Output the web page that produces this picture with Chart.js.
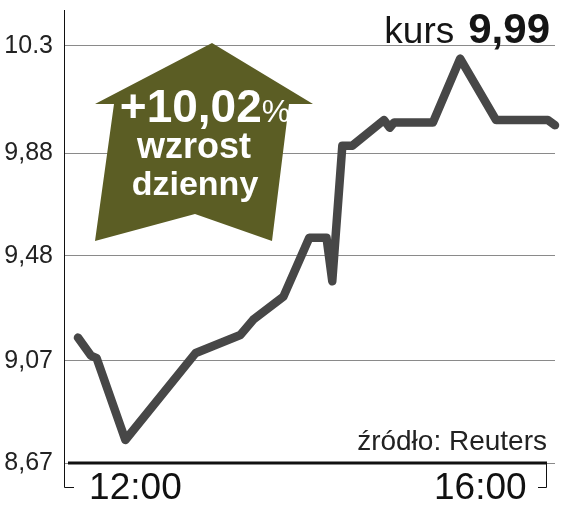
<!DOCTYPE html>
<html>
<head>
<meta charset="utf-8">
<script src="https://cdn.jsdelivr.net/npm/chart.js@4/dist/chart.umd.min.js"></script>
<style>
  body { margin: 0; background: #fff; }
  #kurs { display: block; }
</style>
</head>
<body>
<canvas id="kurs" width="561" height="513"></canvas>
<script>
// notowania w ciagu dnia (godzina, kurs)
const godziny = ['11:20', '11:29', '11:33', '11:53', '12:42', '13:13', '13:22', '13:43', '14:01', '14:13', '14:17',
    '14:24', '14:31', '14:53', '14:57', '15:00', '15:27', '15:46', '16:11', '16:47', '16:52'];
const kursy = [9.16, 9.09, 9.08, 8.76, 9.10, 9.17, 9.23, 9.32, 9.55, 9.55, 9.38,
    9.91, 9.91, 10.01, 9.98, 10.00, 10.00, 10.25, 10.01, 10.01, 9.99];

const yTicks = [8.67, 9.07, 9.48, 9.88, 10.3];
const yLabels = ['8,67', '9,07', '9,48', '9,88', '10.3'];
const xTicks = ['12:00', '16:00'];
const zakres = ['11:11', '16:52'];
const yMax = 10.44;

const tytul = 'kurs';
const ostatni = '9,99';
const zmiana = '+10,02';
const opis = ['wzrost', 'dzienny'];
const zrodlo = 'źródło: Reuters';

const toMin = (s) => {
    const [h, m] = s.split(':').map(Number);
    return h * 60 + m;
};
const toHour = (v) => {
    const h = Math.floor(v / 60);
    const m = v % 60;
    return h + ':' + (m < 10 ? '0' + m : m);
};

const FONT = '"Liberation Sans", Arial, sans-serif';

// strzalka w gore
const strzalka = [[212, 43], [313, 104], [289, 104], [272, 241], [195, 214], [95, 241], [114, 104], [95, 104]];

const dekoracje = {
    id: 'dekoracje',
    beforeDatasetsDraw(chart) {
        const c = chart.ctx;
        c.save();
        c.fillStyle = '#5b5d24';
        c.beginPath();
        strzalka.forEach(([x, y], i) => i ? c.lineTo(x, y) : c.moveTo(x, y));
        c.closePath();
        c.fill();
        c.restore();
    },
    afterDraw(chart) {
        const c = chart.ctx;
        const a = chart.chartArea;
        c.save();
        c.strokeStyle = '#111';
        c.lineWidth = 1;
        c.beginPath();
        c.moveTo(a.left - 0.5, a.top);
        c.lineTo(a.left - 0.5, a.bottom + 24.5);
        c.lineTo(a.left + 9, a.bottom + 24.5);
        c.stroke();

        c.beginPath();
        c.moveTo(a.right - 8.5, a.bottom);
        c.lineTo(a.right - 8.5, a.bottom + 24.5);
        c.lineTo(a.right - 17, a.bottom + 24.5);
        c.stroke();

        c.lineWidth = 3;
        c.beginPath();
        c.moveTo(a.left + 3, a.bottom);
        c.lineTo(a.right - 8, a.bottom);
        c.stroke();

        // kurs 9,99
        c.fillStyle = '#151515';
        c.textAlign = 'right';
        c.textBaseline = 'alphabetic';
        c.font = 'bold 42px ' + FONT;
        c.fillText(ostatni, 550, 43);
        const w = c.measureText(ostatni).width;
        c.font = '37px ' + FONT;
        c.fillText(tytul, 550 - w - 14, 43);

        c.font = '28px ' + FONT;
        c.fillStyle = '#222';
        c.fillText(zrodlo, 547, 450);

        // napisy na strzalce
        c.fillStyle = '#fff';
        c.textAlign = 'left';
        c.font = 'bold 46px ' + FONT;
        const w1 = c.measureText(zmiana).width;
        c.font = '32px ' + FONT;
        const w2 = c.measureText('%').width;
        const x0 = 205 - (w1 + w2) / 2;
        c.font = 'bold 46px ' + FONT;
        c.fillText(zmiana, x0, 122);
        c.font = '32px ' + FONT;
        c.fillText('%', x0 + w1, 122);

        c.textAlign = 'center';
        c.font = 'bold 36px ' + FONT;
        c.fillText(opis[0], 194, 158);
        c.font = 'bold 34px ' + FONT;
        c.fillText(opis[1], 195, 195);
        c.restore();
    }
};

new Chart(document.querySelector('#kurs'), {
    type: 'line',
    data: {
        datasets: [{
            data: godziny.map((g, i) => ({ x: toMin(g), y: kursy[i] })),
            borderColor: '#474747',
            borderWidth: 8.5,
            borderJoinStyle: 'round',
            borderCapStyle: 'round',
            pointRadius: 0,
            tension: 0,
            clip: false
        }]
    },
    options: {
        responsive: false,
        animation: false,
        devicePixelRatio: 1,
        layout: { padding: { top: 10, right: 6, left: 0, bottom: 0 } },
        plugins: { legend: { display: false }, tooltip: { enabled: false } },
        scales: {
            x: {
                type: 'linear',
                min: toMin(zakres[0]),
                max: toMin(zakres[1]),
                grid: { display: false, drawTicks: false },
                border: { display: false },
                afterBuildTicks: (s) => { s.ticks = xTicks.map(t => ({ value: toMin(t) })); },
                afterFit: (s) => { s.height = 50; s.paddingLeft = 0; s.paddingRight = 0; },
                ticks: {
                    maxRotation: 0,
                    autoSkip: false,
                    padding: 4,
                    color: '#111',
                    font: { family: FONT, size: 37 },
                    callback: (v) => toHour(v)
                }
            },
            y: {
                min: yTicks[0],
                max: yMax,
                grid: { color: '#8a8a8a', lineWidth: 1, drawTicks: false },
                border: { display: false },
                afterBuildTicks: (s) => { s.ticks = yTicks.map(v => ({ value: v })); },
                afterFit: (s) => { s.width = 65; s.paddingTop = 0; s.paddingBottom = 0; },
                ticks: {
                    padding: 12,
                    color: '#222',
                    font: { family: FONT, size: 25 },
                    callback: (v) => yLabels[yTicks.indexOf(v)]
                }
            }
        }
    },
    plugins: [dekoracje]
});
</script>
</body>
</html>
